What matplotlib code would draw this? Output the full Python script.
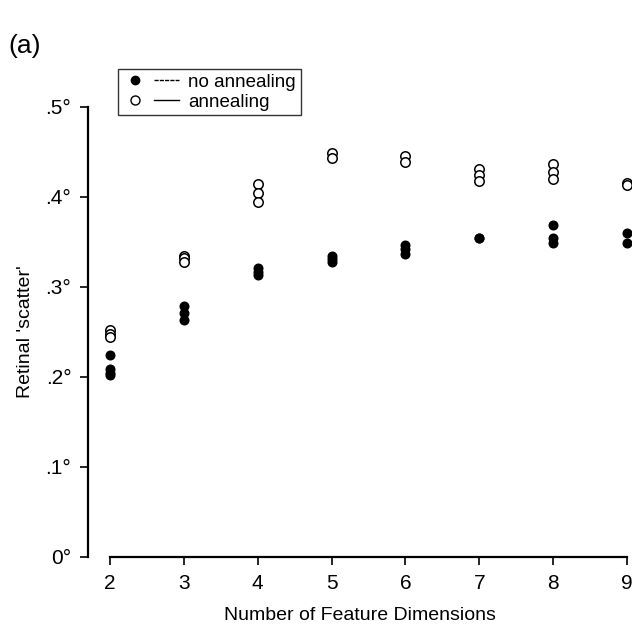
import matplotlib
matplotlib.use('Agg')
import matplotlib.pyplot as plt
from matplotlib.lines import Line2D
from matplotlib.legend_handler import HandlerTuple

plt.rcParams['font.family'] = ['Liberation Sans', 'DejaVu Sans']

# number of feature dimensions and the retinal scatter
dims = [2, 3, 4, 5, 6, 7, 8, 9]
no_anneal = [
    [0.224, 0.209, 0.205, 0.202],
    [0.279, 0.271, 0.263],
    [0.321, 0.317, 0.313],
    [0.335, 0.331, 0.328],
    [0.347, 0.342, 0.337],
    [0.355, 0.354],
    [0.369, 0.355, 0.349],
    [0.360, 0.349],
]
anneal = [
    [0.252, 0.248, 0.244],
    [0.335, 0.332, 0.328],
    [0.415, 0.404, 0.394],
    [0.449, 0.443],
    [0.446, 0.439],
    [0.431, 0.425, 0.418],
    [0.437, 0.428, 0.420],
    [0.416, 0.413],
]
y_ticks = [0, 0.1, 0.2, 0.3, 0.4, 0.5]
y_labels = ['0°', '.1°', '.2°', '.3°', '.4°', '.5°']

fig = plt.figure(figsize=(6.32, 6.27), dpi=100)
ax = fig.add_axes([88 / 632, 70 / 627, 543 / 632, 450 / 627])

# flatten the groups into x/y lists
xf = [d for d, vals in zip(dims, no_anneal) for v in vals]
yf = [v for vals in no_anneal for v in vals]
xo = [d for d, vals in zip(dims, anneal) for v in vals]
yo = [v for vals in anneal for v in vals]

ax.plot(xf, yf, 'o', color='black', ms=6.2, ls='none', clip_on=False)
ax.plot(xo, yo, 'o', mfc='white', mec='black', mew=1.1, ms=6.8, ls='none', clip_on=False)

ax.set_xlim(2 - 22 / 73.9, 9 + 4 / 73.9)
ax.set_ylim(0, 0.5)
ax.spines['top'].set_visible(False)
ax.spines['right'].set_visible(False)
ax.spines['bottom'].set_bounds(2, 9)
ax.spines['left'].set_linewidth(1.6)
ax.spines['bottom'].set_linewidth(1.6)

ax.set_xticks(dims)
ax.set_xticklabels([str(d) for d in dims], fontsize=15)
ax.set_yticks(y_ticks)
ax.set_yticklabels(y_labels, fontsize=15)
ax.tick_params(axis='both', direction='out', length=6, width=1.2, pad=6)

ax.set_xlabel('Number of Feature Dimensions', fontsize=14, labelpad=10)
ax.set_ylabel("Retinal 'scatter'", fontsize=14, labelpad=8)

fig.text(0.014, 0.915, '(a)', fontsize=19)

h1 = (Line2D([], [], marker='o', color='black', ms=6, ls='none'),
      Line2D([], [], color='black', lw=1.0, ls=(0, (3, 0.8))))
h2 = (Line2D([], [], marker='o', mfc='white', mec='black', ms=6.5, ls='none'),
      Line2D([], [], color='black', lw=1.0))
leg = ax.legend([h1, h2], ['no annealing', 'annealing'],
                handler_map={tuple: HandlerTuple(ndivide=None, pad=0.3)},
                loc='upper left', fontsize=13.5, frameon=True,
                fancybox=False, edgecolor='black', handlelength=3.0,
                handletextpad=0.5, borderpad=0.25, labelspacing=0.15,
                borderaxespad=0)
leg.get_frame().set_linewidth(1.0)
leg.set_bbox_to_anchor((118 / 632, 1 - 69 / 627), transform=fig.transFigure)

fig.savefig('out.png', dpi=100)
